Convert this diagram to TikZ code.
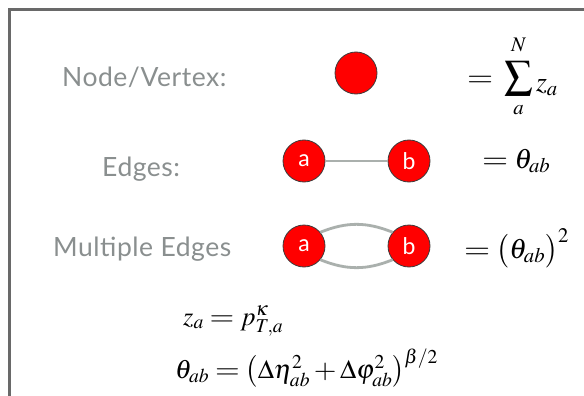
\documentclass[tikz,border=0pt]{standalone}
\usepackage{mathptmx}
\usepackage{graphicx}
\usepackage[no-math]{fontspec}
\setmainfont{Lato}[LetterSpace=2]
\newcommand{\weq}{\mathrel{\scalebox{1.2}[1]{$=$}}}
\newcommand{\wplus}{\mathbin{\scalebox{1.1}[1]{$+$}}}
\newcommand{\mth}[1]{\scalebox{1.12}{$#1$}}
\newcommand{\mthb}[1]{\scalebox{1.06}{$#1$}}
\definecolor{framegray}{RGB}{105,105,105}
\definecolor{labelgray}{RGB}{138,143,143}
\definecolor{edgegray}{RGB}{170,176,173}
\definecolor{vred}{RGB}{255,0,0}
\tikzset{
  lbl/.style={anchor=base west, inner sep=0pt, text=labelgray, font=\fontsize{26.5}{30}\selectfont},
  vtx/.style={circle, fill=vred, draw={rgb,255:red,60;green,60;blue,60}, line width=0.8pt, minimum size=42pt, inner sep=0pt, text=white, font=\fontsize{23}{26}\selectfont},
  eqn/.style={inner sep=0pt, font=\fontsize{25}{30}\selectfont},
  edgeline/.style={draw=edgegray, line width=2.8pt},
}
\begin{document}
\begin{tikzpicture}[x=1pt,y=-1pt]
\useasboundingbox (0,0) rectangle (584,396);
\fill[white] (0,0) rectangle (584,396);
\coordinate (fb) at (9.5,400);
\coordinate (fc) at (9.5,9.5);
\coordinate (fr) at (590,9.5);
\draw[framegray, line width=2.2pt] (fb) -- (fc) -- (fr);
% labels
\node[lbl] (l1) at (62,86) {Node/Vertex:};
\node[lbl] (l2) at (102,176) {Edges:};
\node[lbl] (l3) at (53,256) {Multiple Edges};
% vertices
\node[vtx] (v) at (356,73) {};
\node[vtx] (a1) at (304,161) {a};
\node[vtx] (b1) at (409,161) {b};
\node[vtx] (a2) at (304,246) {a};
\node[vtx] (b2) at (409,246) {b};
\draw[edgeline] (a1) -- (b1);
\draw[edgeline] (a2.40) to[bend left=22] (b2.140);
\draw[edgeline] (a2.-40) to[bend right=22] (b2.-140);
% right equations
\node[eqn, anchor=base west] (e1) at (467,86) {\mth{\weq\mkern3mu\displaystyle\sum_{\rule{0pt}{12pt}a}^{N\rule[-6pt]{0pt}{0pt}}\raisebox{-5pt}{$z_a$}}};
\node[eqn, anchor=base west] (e2) at (482,168) {\mth{\weq\theta_{ab}}};
\node[eqn, anchor=base west] (e3) at (464,258) {\mth{\weq\bigl(\theta_{ab}\bigr)^2}};
% bottom equations
\node[eqn, anchor=base west] (f1) at (183,325) {\mthb{z_a \weq p_{T,a}^{\kappa}}};
\node[eqn, anchor=base west] (f2) at (175,378) {\mthb{\theta_{ab} \weq \bigl(\Delta\eta_{ab}^2 \wplus \Delta\varphi_{ab}^2\bigr)^{\beta/2}}};
\end{tikzpicture}
\end{document}
